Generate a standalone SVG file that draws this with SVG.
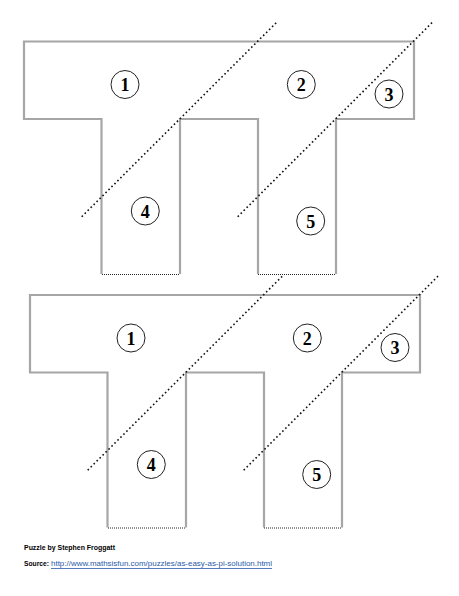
<svg xmlns="http://www.w3.org/2000/svg" width="459" height="596" viewBox="0 0 459 596">
<style>
.edge{fill:none;stroke:#a6a6a6;stroke-width:2.2}
.base{fill:none;stroke:#222;stroke-width:1;stroke-dasharray:1 1}
.cut{fill:none;stroke:#111;stroke-width:1.6;stroke-dasharray:1.6 2.6}
.lab circle{fill:#fff;stroke:#222;stroke-width:1}
.lab text{font-family:"Liberation Serif",serif;font-weight:bold;font-size:18px;text-anchor:middle;fill:#000}
.note{font-family:"Liberation Sans",Arial,sans-serif;font-size:7px}
</style>
<defs>
<g id="fig">
<path class="edge" d="M101.5,274 V119 H24 V41.5 H414 V119 H336 V274 M258,274 V119 H180 V274"/>
<path class="base" d="M102,274.5 H180 M258,274.5 H336"/>
<g id="cuts">
<line class="cut" x1="81.7" y1="216.7" x2="277.3" y2="21.7"/>
<line class="cut" x1="237.7" y1="216.7" x2="433" y2="21.7"/>
</g>
<g class="lab"><circle cx="125" cy="84.5" r="14"/><text x="125" y="91">1</text></g>
<g class="lab"><circle cx="301.3" cy="84.5" r="14"/><text x="301.3" y="91">2</text></g>
<g class="lab"><circle cx="389" cy="94" r="14"/><text x="389" y="100.5">3</text></g>
<g class="lab"><circle cx="145.3" cy="211" r="14"/><text x="145.3" y="217.5">4</text></g>
<g class="lab"><circle cx="310.7" cy="221" r="14"/><text x="310.7" y="227.5">5</text></g>
</g>
</defs>
<g id="puzzle-top"><use href="#fig"/></g>
<g id="puzzle-bottom"><use href="#fig" transform="translate(6,253.5)"/></g>
<g id="credits">
<text class="note" x="24" y="550" font-weight="bold" textLength="91" lengthAdjust="spacingAndGlyphs">Puzzle by Stephen Froggatt</text>
<text class="note" x="24" y="566" font-weight="bold" textLength="25" lengthAdjust="spacingAndGlyphs">Source:</text>
<text class="note" x="51" y="566" fill="#2a5aa8" textLength="221" lengthAdjust="spacingAndGlyphs">http://www.mathsisfun.com/puzzles/as-easy-as-pi-solution.html</text>
<line x1="51" y1="568.5" x2="272" y2="568.5" stroke="#2a5aa8" stroke-width="0.8"/>
</g>
</svg>
